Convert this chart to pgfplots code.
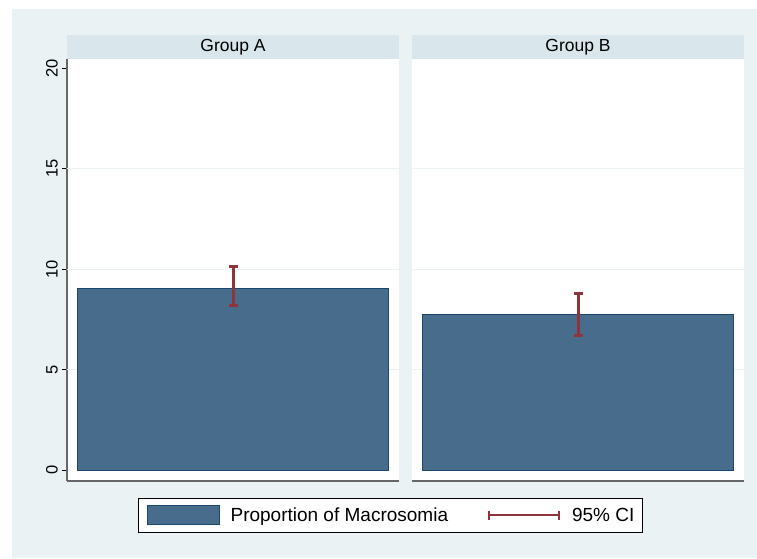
\documentclass[border=0pt]{standalone}
\usepackage{fontspec}
\setmainfont{Liberation Sans}
\usepackage{pgfplots}
\pgfplotsset{compat=1.18}
\definecolor{bgc}{HTML}{EAF2F3}
\definecolor{hdr}{HTML}{D9E6EB}
\definecolor{barfill}{HTML}{486C8B}
\definecolor{baredge}{HTML}{1A476F}
\definecolor{cic}{HTML}{8F343B}
\definecolor{axc}{HTML}{666666}
\definecolor{gridc}{HTML}{EAF2F3}

\pgfplotsset{
  panel/.style={
    scale only axis, width=332pt, height=422pt,
    anchor=south west,
    xmin=0, xmax=1, ymin=-0.547, ymax=20.448,
    /pgf/number format/assume math mode=true,
    axis background/.style={fill=white},
    axis x line*=bottom, axis y line*=left,
    xtick=\empty,
    axis line style={axc, line width=1.2pt, -},
    tick align=outside,
    major tick length=5pt,
    ytick style={black, line width=0.8pt},
    ytick={0,5,10,15,20},
    extra y ticks={5,10,15},
    extra y tick labels={},
    extra y tick style={grid=major, major tick length=0pt, tick style={draw=none}},
    grid style={gridc, line width=1pt},
    title style={at={(0.5,1)}, anchor=south, fill=hdr, minimum width=332pt,
      minimum height=24pt, inner sep=0pt, yshift=-6pt,
      font=\fontsize{17.5}{20}\selectfont},
    yticklabel style={rotate=90, anchor=south, inner sep=0pt, xshift=0pt,
      font=\fontsize{16.5}{19}\selectfont},
  }
}

\begin{document}
\begin{tikzpicture}[x=1pt,y=1pt]
\fill[white] (0,0) rectangle (757,558);
\fill[bgc] (12,0) rectangle (757,549);

% Panel A
\begin{axis}[panel, at={(67pt,77pt)}, title={Group A},
  yticklabel style={yshift=4pt},
  legend columns=4,
  legend style={at={(0.9744,-0.0403)}, anchor=north, draw=black, line width=0.8pt,
    fill=white, inner xsep=8pt, inner ysep=7pt,
    font=\fontsize{19}{22}\selectfont,
    nodes={inner sep=0pt},
    /tikz/every odd column/.append style={column sep=11pt},
    /tikz/every even column/.append style={column sep=39pt}},
  legend cell align=left]
\addplot[ybar, bar width=311pt, fill=barfill, draw=baredge, line width=1pt,
  legend image code/.code={\draw[fill=barfill, draw=baredge, line width=1pt] (0pt,-9.5pt) rectangle (72pt,9.5pt);}]
  coordinates {(0.5,9.05)};
\addlegendentry{Proportion of Macrosomia}
\addplot[cic, line width=3pt, mark=-, mark size=4.5pt, mark options={line width=3pt},
  legend image code/.code={
    \draw[cic, line width=2pt] (0pt,0pt) -- (72pt,0pt);
    \draw[cic, line width=2pt] (1pt,-4.5pt) -- (1pt,4.5pt);
    \draw[cic, line width=2pt] (71pt,-4.5pt) -- (71pt,4.5pt);}]
  coordinates {(0.5,8.16) (0.5,10.1)};
\addlegendentry{95\% CI}
\end{axis}

% Panel B
\begin{axis}[panel, at={(412pt,77pt)}, title={Group B},
  y axis line style={draw=none},
  ytick={5,10,15}, yticklabels={}, major tick length=0pt, ytick style={draw=none},
  extra y ticks={}, ymajorgrids]
\addplot[ybar, bar width=311pt, fill=barfill, draw=baredge, line width=1pt]
  coordinates {(0.5,7.76)};
\addplot[cic, line width=3pt, mark=-, mark size=4.5pt, mark options={line width=3pt}]
  coordinates {(0.5,6.67) (0.5,8.8)};
\end{axis}
\useasboundingbox (0,0) rectangle (757,558);
\end{tikzpicture}
\end{document}
